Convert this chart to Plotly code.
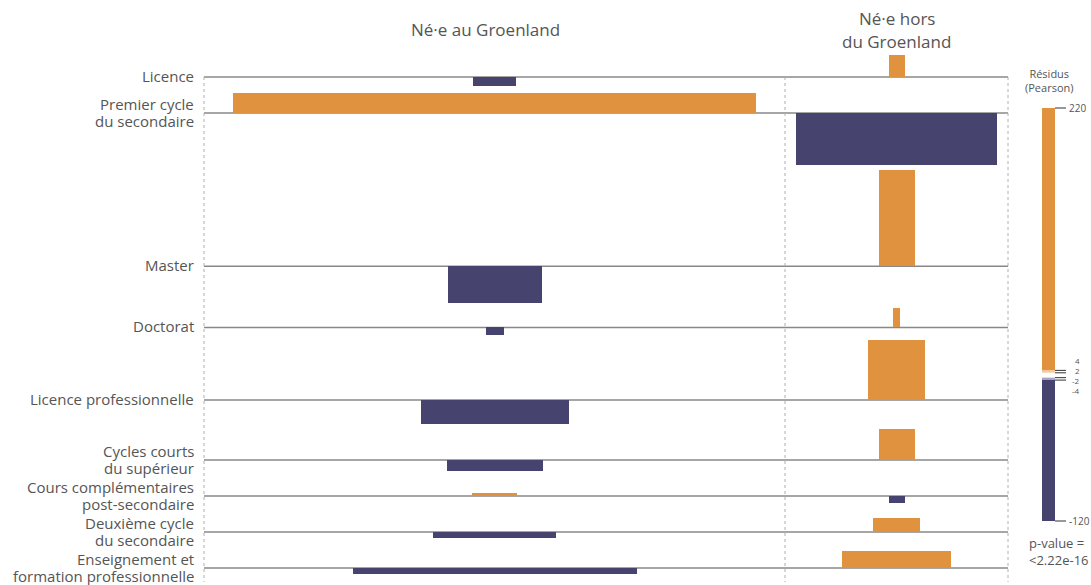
import plotly.graph_objects as go

# Niveaux d'études (lignes) et lieu de naissance (colonnes)
niveaux = [
    "Licence",
    "Premier cycle<br>du secondaire",
    "Master",
    "Doctorat",
    "Licence professionnelle",
    "Cycles courts<br>du supérieur",
    "Cours complémentaires<br>post-secondaire",
    "Deuxième cycle<br>du secondaire",
    "Enseignement et<br>formation professionnelle",
]
colonnes = ["Né·e au Groenland", "Né·e hors<br>du Groenland"]

# Résidus de Pearson (hauteur des barres)
residus_ne_gl = [-21, 46, -85, -18, -55, -25, 7, -14, -14]
residus_hors_gl = [50, -120, 220, 44, 137, 71, -16, 32, 39]

# Racine des effectifs attendus (largeur des barres)
racine_att_ne_gl = [43, 523, 94, 18, 148, 96, 45, 123, 284]
racine_att_hors_gl = [16, 201, 36, 7, 57, 36, 16, 47, 109]

# Légende
legende_ticks = [220, 4, 2, -2, -4, -120]
p_value = "&lt;2.22e-16"

ORANGE = "#E0923F"
MARINE = "#47436F"
GRIS = "#555555"
FONT = "Open Sans"

# mise en page (pixels / unités)
W, H = 1091, 585
PX_PAR_UNITE = 0.436          # échelle verticale du graphique principal
Y_MAX = H / PX_PAR_UNITE
bord_g, separation, bord_d = 204, 785, 1008
centres = [(bord_g + separation) / 2, (separation + bord_d) / 2]
ecart = 5 / PX_PAR_UNITE
ecart_min = 36 / PX_PAR_UNITE


def py(px):
    # position verticale en pixels -> unités de l'axe principal
    return px / PX_PAR_UNITE


# lignes de base calculées à partir des résidus
series = [residus_ne_gl, residus_hors_gl]
pos = [max(0, *[s[i] for s in series]) for i in range(len(niveaux))]
neg = [max(0, *[-s[i] for s in series]) for i in range(len(niveaux))]
bases = [py(77)]
for i in range(1, len(niveaux)):
    bases.append(bases[-1] + max(neg[i - 1] + pos[i] + ecart, ecart_min))

fig = go.Figure()

for c, (res, larg) in enumerate([(residus_ne_gl, racine_att_ne_gl),
                                  (residus_hors_gl, racine_att_hors_gl)]):
    fig.add_trace(go.Bar(
        x=[centres[c]] * len(res),
        y=[-r for r in res],
        base=bases,
        width=larg,
        marker=dict(color=[ORANGE if r > 0 else MARINE for r in res], line=dict(width=0)),
        showlegend=False,
        hoverinfo="skip",
    ))

shapes = []
# lignes de base
for b in bases:
    shapes.append(dict(type="line", xref="x", yref="y", x0=bord_g, x1=bord_d, y0=b, y1=b,
                       line=dict(color="#888888", width=1.5), layer="below"))
# séparations pointillées
for xv in [bord_g, separation, bord_d]:
    shapes.append(dict(type="line", xref="x", yref="y", x0=xv, x1=xv, y0=bases[0], y1=py(582),
                       line=dict(color="#b0b0b0", width=1, dash="dot"), layer="below"))

annotations = []
for i, lab in enumerate(niveaux):
    lignes = lab.split("<br>")
    n = len(lignes)
    for k, t in enumerate(lignes):
        annotations.append(dict(x=196, y=bases[i], xref="x", yref="y", text=t, showarrow=False,
                                xanchor="right", yanchor="middle",
                                yshift=(n - 1) * 8.5 - k * 17 + 1,
                                font=dict(family=FONT, size=15, color=GRIS)))

annotations.append(dict(x=centres[0] - 9, y=py(29), xref="x", yref="y", text=colonnes[0],
                        showarrow=False, yanchor="middle", font=dict(family=FONT, size=17, color=GRIS)))
for k, t in enumerate(colonnes[1].split("<br>")):
    annotations.append(dict(x=centres[1], y=py(18 + k * 23), xref="x", yref="y",
                            text=t, showarrow=False, yanchor="middle",
                            font=dict(family=FONT, size=17, color=GRIS)))

# légende des résidus (axe y2, échelle linéaire)
l_x0, l_x1 = 1042, 1055
classes = [(4, 220, ORANGE), (2, 4, "#F2C99C"), (-2, 2, "#FFFFFF"), (-4, -2, "#A7A4C2"), (-120, -4, MARINE)]
for lo, hi, col in classes:
    shapes.append(dict(type="rect", xref="x", yref="y2", x0=l_x0, x1=l_x1, y0=lo, y1=hi,
                       fillcolor=col, line=dict(width=0)))
petits = [t for t in legende_ticks if abs(t) < 10]
for t in legende_ticks:
    shapes.append(dict(type="line", xref="x", yref="y2", x0=l_x1, x1=l_x1 + 11, y0=t, y1=t,
                       line=dict(color="#333333", width=1)))
    if t in petits:
        j = petits.index(t)
        annotations.append(dict(x=1082, y=0, xref="x", yref="y2", text=str(t), showarrow=False,
                                xanchor="right", yanchor="middle", yshift=15 - j * 10,
                                font=dict(family=FONT, size=8, color=GRIS)))
    else:
        annotations.append(dict(x=l_x1 + 12, y=t, xref="x", yref="y2", text=str(t), showarrow=False,
                                xanchor="left", yanchor="middle",
                                font=dict(family=FONT, size=10, color=GRIS)))

annotations.append(dict(x=1049, y=243, xref="x", yref="y2", text="Résidus<br>(Pearson)", showarrow=False,
                        xanchor="center", yanchor="middle", font=dict(family=FONT, size=11, color=GRIS)))
annotations.append(dict(x=1027, y=-145, xref="x", yref="y2", text="p-value =<br>" + p_value, showarrow=False,
                        xanchor="left", yanchor="middle", align="left",
                        font=dict(family=FONT, size=13, color=GRIS)))

px_leg = (521 - 108) / (220 - (-120))
fig.update_layout(
    width=W, height=H,
    margin=dict(l=0, r=0, t=0, b=0),
    plot_bgcolor="white", paper_bgcolor="white",
    barmode="overlay", bargap=0,
    xaxis=dict(range=[0, W], visible=False, fixedrange=True),
    yaxis=dict(range=[Y_MAX, 0], visible=False, fixedrange=True),
    yaxis2=dict(range=[-120 - (H - 521) / px_leg, 220 + 108 / px_leg], overlaying="y",
                visible=False, fixedrange=True),
    shapes=shapes,
    annotations=annotations,
)

fig.write_html("out.html", config={"displayModeBar": False},
               post_script="document.body.style.margin='0';")
